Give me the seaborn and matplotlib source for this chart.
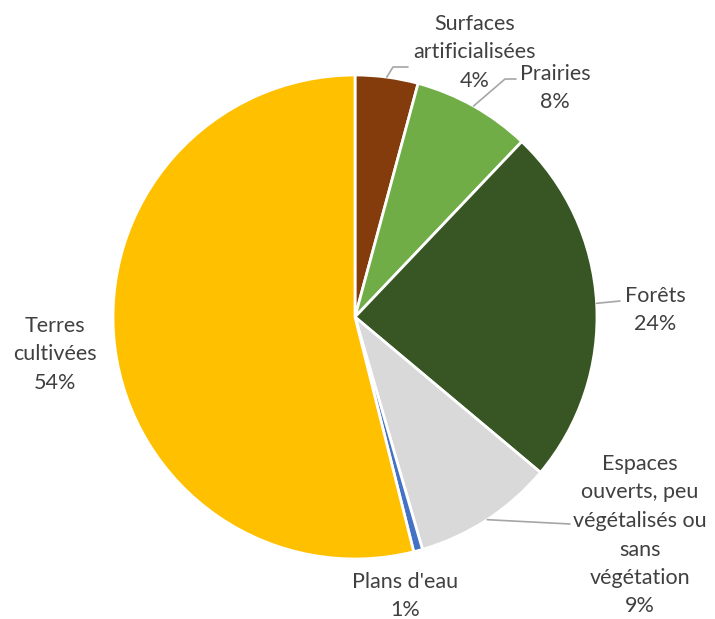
import numpy as np
import matplotlib
matplotlib.use("Agg")
import matplotlib.pyplot as plt
import seaborn as sns

sns.set_theme(style="white")
plt.rcParams['font.family'] = ['Lato', 'DejaVu Sans']

# données (parts en %)
categories = ['Surfaces\nartificialisées', 'Prairies', 'Forêts',
              'Espaces\nouverts, peu\nvégétalisés ou\nsans\nvégétation',
              "Plans d'eau", 'Terres\ncultivées']
values = [4.2, 7.9, 24.0, 9.4, 0.6, 53.9]
pct_labels = ['4%', '8%', '24%', '9%', '1%', '54%']
colors = ['#843C0C', '#70AD47', '#375623', '#D9D9D9', '#4472C4', '#FFC000']

W, H = 715, 619
fig = plt.figure(figsize=(W / 100, H / 100), dpi=100)
ax = fig.add_axes([0, 0, 1, 1])

cx, cy, R = 355, H - 317, 242
wedges, _ = ax.pie(values, colors=colors, startangle=90, counterclock=False,
                   center=(cx, cy), radius=R, frame=True,
                   wedgeprops=dict(edgecolor='white', linewidth=2))
ax.set_xlim(0, W)
ax.set_ylim(0, H)
ax.set_aspect('equal')
ax.axis('off')

# placement des étiquettes (centre de la 1re ligne, pixels depuis le haut) et coudes
label_pos = [(475, 24), (555, 74), (655, 296), (640, 464), (405, 582), (55, 326)]
elbows = [[(393, 67), (408, 67)], [(505, 79), (516, 79)], [(620, 301)],
          [(570, 524)], None, None]

txt_color = '#404040'
line_h = 28.5
for w, cat, pct, (lx, ly), elb in zip(wedges, categories, pct_labels, label_pos, elbows):
    lines = cat.split('\n') + [pct]
    for i, s in enumerate(lines):
        ax.text(lx, H - (ly + i * line_h), s, ha='center', va='center',
                fontsize=15.5, color=txt_color)
    if elb:
        mid = np.deg2rad((w.theta1 + w.theta2) / 2)
        xs = [cx + R * np.cos(mid)] + [p[0] for p in elb]
        ys = [cy + R * np.sin(mid)] + [H - p[1] for p in elb]
        ax.plot(xs, ys, color='#A6A6A6', lw=1.2)

fig.savefig('out.png', dpi=100)
